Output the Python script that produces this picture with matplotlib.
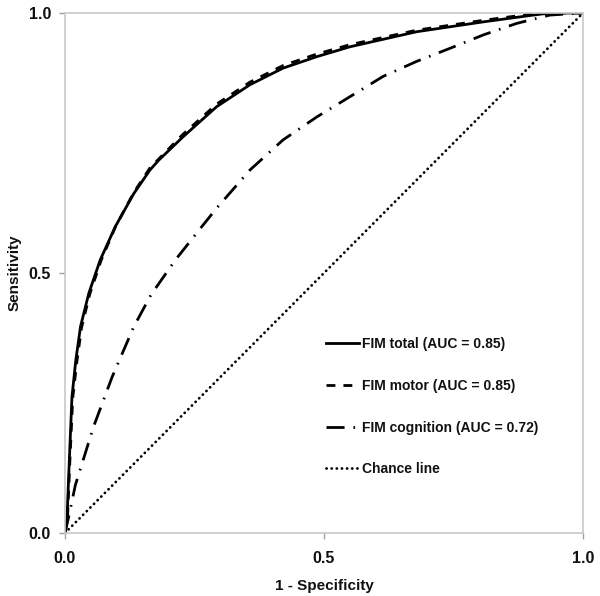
import matplotlib
matplotlib.use("Agg")
import matplotlib.pyplot as plt

plt.rcParams['font.family'] = ['Liberation Sans', 'DejaVu Sans']
plt.rcParams['font.weight'] = 'bold'

# ROC curves
fpr_total = [0, 0.004, 0.0084, 0.0135, 0.021, 0.030, 0.046, 0.068, 0.097, 0.133, 0.164,
             0.181, 0.228, 0.293, 0.357, 0.421, 0.486, 0.55, 0.679, 0.808, 0.904, 0.936, 1.0]
sens_total = [0, 0.03, 0.14, 0.262, 0.333, 0.397, 0.461, 0.525, 0.589, 0.653, 0.698,
              0.717, 0.762, 0.820, 0.862, 0.894, 0.916, 0.935, 0.964, 0.983, 0.996, 1.0, 1.0]

fpr_motor = [0, 0.005, 0.0095, 0.015, 0.023, 0.032, 0.048, 0.07, 0.098, 0.133, 0.164,
             0.228, 0.293, 0.357, 0.421, 0.486, 0.55, 0.679, 0.808, 0.9, 0.93, 1.0]
sens_motor = [0, 0.03, 0.14, 0.26, 0.33, 0.395, 0.46, 0.525, 0.59, 0.655, 0.702,
              0.767, 0.825, 0.867, 0.899, 0.921, 0.939, 0.967, 0.986, 0.998, 1.0, 1.0]

fpr_cog = [0, 0.008, 0.020, 0.055, 0.091, 0.133, 0.166, 0.213, 0.264, 0.293, 0.329,
           0.357, 0.421, 0.486, 0.55, 0.614, 0.679, 0.743, 0.808, 0.872, 0.936, 1.0]
sens_cog = [0, 0.035, 0.092, 0.204, 0.30, 0.397, 0.458, 0.525, 0.589, 0.625, 0.666,
            0.698, 0.756, 0.80, 0.839, 0.878, 0.907, 0.932, 0.958, 0.980, 0.996, 1.0]

chance = [0, 1]

labels = ['FIM total (AUC = 0.85)', 'FIM motor (AUC = 0.85)',
          'FIM cognition (AUC = 0.72)', 'Chance line']
ticks = [0.0, 0.5, 1.0]

fig = plt.figure(figsize=(6, 5.96), dpi=100)
ax = fig.add_axes([0.1083, 0.1057, 0.8634, 0.8725])

ax.plot(fpr_total, sens_total, color='black', lw=2.0, ls='-', label=labels[0])
ax.plot(fpr_motor, sens_motor, color='black', lw=2.0, ls=(0, (3.2, 2.9)), label=labels[1])
ax.plot(fpr_cog, sens_cog, color='black', lw=2.0, ls=(0, (6.5, 3.2, 0.6, 3.2)), label=labels[2])
ax.plot(chance, chance, color='black', lw=2.0, ls=(0, (0.05, 1.8)),
        dash_capstyle='round', label=labels[3])

ax.set_xlim(0, 1)
ax.set_ylim(0, 1)
ax.set_xticks(ticks)
ax.set_yticks(ticks)
ax.set_xticklabels(['%.1f' % t for t in ticks])
ax.set_yticklabels(['%.1f' % t for t in ticks])
ax.tick_params(direction='out', length=4, width=1, color='#a0a0a0',
               labelsize=11.5, labelcolor='#111111')
ax.tick_params(axis='x', pad=9)
ax.tick_params(axis='y', pad=6)
for s in ax.spines.values():
    s.set_color('#c8c8c8')
    s.set_linewidth(1.2)

ax.set_xlabel('1 - Specificity', fontsize=11, fontweight='bold', color='#111111', labelpad=9)
ax.set_ylabel('Sensitivity', fontsize=11, fontweight='bold', color='#111111', labelpad=5)

leg = ax.legend(loc='upper left', bbox_to_anchor=(0.503, 0.377), frameon=False,
                borderpad=0, borderaxespad=0, handlelength=2.4, handletextpad=0.25,
                labelspacing=2.0, prop={'size': 10, 'weight': 'bold'})
for t in leg.get_texts():
    t.set_color('#111111')

fig.savefig('out.png', dpi=100)
